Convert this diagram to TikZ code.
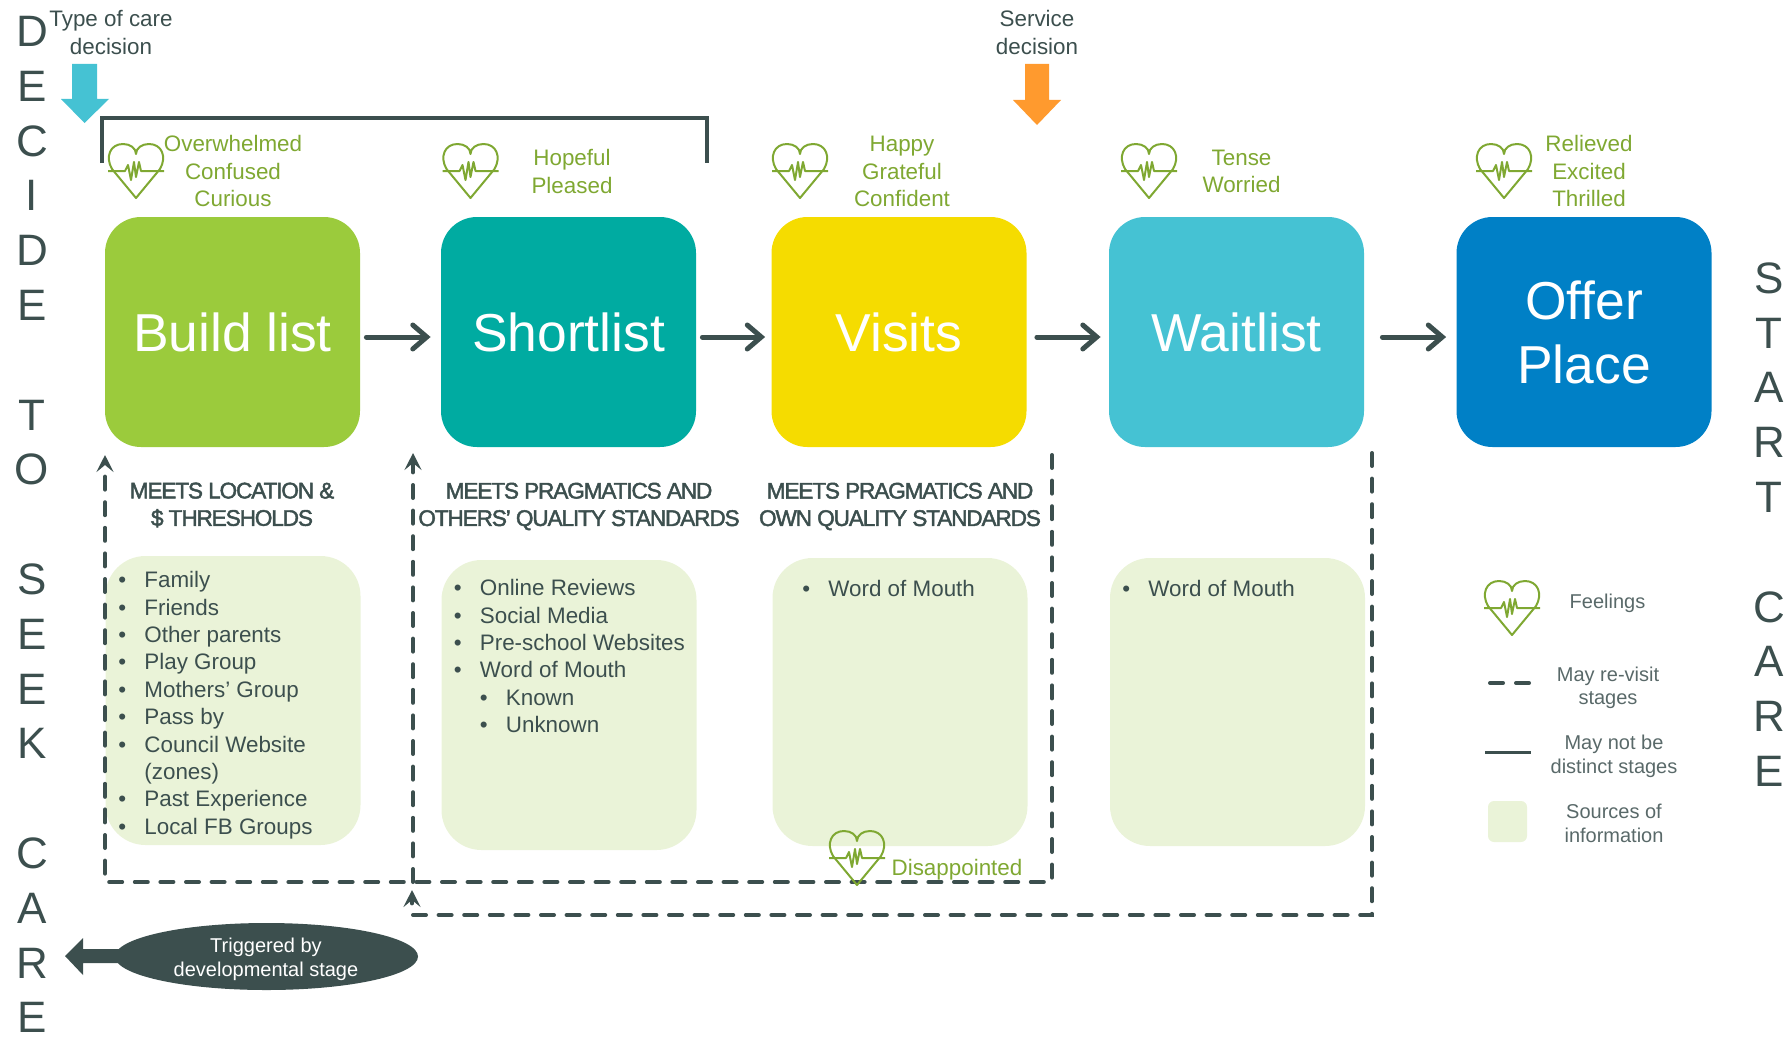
\documentclass[tikz,border=0pt]{standalone}
\usepackage{fontspec}
\setmainfont{Liberation Sans}
\newfontfamily\hdfont[FakeBold=2,LetterSpace=-5]{Liberation Sans}
\usetikzlibrary{arrows.meta,calc,shapes.geometric}
\definecolor{dk}{HTML}{3C4F4E}
\definecolor{gt}{HTML}{7FA832}
\definecolor{srcbg}{HTML}{EAF3D8}
\definecolor{cgreen}{HTML}{9BCB3C}
\definecolor{cteal}{HTML}{00ABA1}
\definecolor{cyel}{HTML}{F5DC00}
\definecolor{ccyan}{HTML}{45C2D3}
\definecolor{cblue}{HTML}{0080C6}
\definecolor{corange}{HTML}{FF9A2E}
\tikzset{
  stage/.style={rounded corners=18pt,minimum width=127.5pt,minimum height=115pt,inner sep=0,text=white,align=center,font=\fontsize{26.7}{32}\selectfont},
  src/.style={fill=srcbg,rounded corners=20pt,inner sep=0,minimum width=127.5pt},
  lst/.style={anchor=north west,inner sep=0,align=left,text=dk,font=\fontsize{11.2}{13.7}\selectfont},
  feel/.style={inner sep=0,align=center,text=gt,font=\fontsize{11.2}{13.7}\selectfont},
  note/.style={inner sep=0,align=center,text=dk,font=\fontsize{11.2}{13.7}\selectfont},
  leg/.style={inner sep=0,align=center,text=dk!85!white,font=\fontsize{10}{11.8}\selectfont},
  head/.style={inner sep=0,align=center,text=dk,font=\hdfont\fontsize{11.3}{13.7}\selectfont},
  side/.style={inner sep=0,align=center,text=dk,font=\fontsize{22}{27.4}\selectfont},
  flow/.style={draw=dk,line width=2.5pt,line cap=round,-{Straight Barb[length=7pt,width=12pt,line cap=round]}},
  revisit/.style={draw=dk,line width=2pt,line cap=round,dash pattern=on 6.5pt off 6.3pt},
  revtip/.style={-{Stealth[length=8.5pt,width=8.5pt,inset=3.5pt]}},
  pics/heart/.style={code={
    \draw[gt,line width=1pt,line join=round] (0,54) -- (-24,25) .. controls (-31,13) and (-26,0) .. (-13,0) .. controls (-6,0) and (0,4) .. (0,10) .. controls (0,4) and (6,0) .. (13,0) .. controls (26,0) and (31,13) .. (24,25) -- cycle;
    \draw[gt,line width=1pt,line join=round] (-28,27) -- (-11,27) -- (-8,21) -- (-5,36) -- (-2,18) -- (0,33) -- (3,18) -- (5,27) -- (28,27);
  }}
}
\newcommand{\bl}{\makebox[13pt][l]{•}}
\newcommand{\blb}{\hspace{13pt}\makebox[13pt][l]{•}}
\begin{document}
\begin{tikzpicture}[x=0.5pt,y=-0.5pt]
\useasboundingbox (0,0) rectangle (1791,1038);
% side text
\node[side] (sideL) at (32,524.5) {D\\E\\C\\I\\D\\E\\\mbox{}\\T\\O\\\mbox{}\\S\\E\\E\\K\\\mbox{}\\C\\A\\R\\E};
\node[side] (sideR) at (1769,524.5) {S\\T\\A\\R\\T\\\mbox{}\\C\\A\\R\\E};
% decision labels + arrows
\node[note] (typelab) at (111,32.5) {Type of care\\decision};
\node[note] (servlab) at (1037,32.5) {Service\\decision};
\fill[ccyan] (72,64) -- (97,64) -- (97,99) -- (109,99) -- (84.5,123) -- (61,99) -- (72,99) -- cycle;
\fill[corange] (1025,64) -- (1049,64) -- (1049,100) -- (1061,100) -- (1037,125) -- (1013,100) -- (1025,100) -- cycle;
% bracket
\coordinate (brA) at (102,163);
\coordinate (brT) at (102,118);
\coordinate (brU) at (707,118);
\coordinate (brB) at (707,163);
\draw[dk,line width=1.8pt] (brA) -- (brT) -- (brU) -- (brB);
% stages
\node[stage,fill=cgreen] (s1) at (232.5,332) {Build list};
\node[stage,fill=cteal] (s2) at (568.5,332) {Shortlist};
\node[stage,fill=cyel] (s3) at (899,332) {Visits};
\node[stage,fill=ccyan] (s4) at (1236.5,332) {Waitlist};
\node[stage,fill=cblue] (s5) at (1584,332) {Offer\\Place};
% flow arrows
\draw[flow] ($(s1.east)+(6,5)$) -- ($(s2.west)+(-10,5)$);
\draw[flow] ($(s2.east)+(6,5)$) -- ($(s3.west)+(-6,5)$);
\draw[flow] ($(s3.east)+(10,5)$) -- ($(s4.west)+(-8,5)$);
\draw[flow] ($(s4.east)+(18,5)$) -- ($(s5.west)+(-10,5)$);
% feelings
\pic at (136,144) {heart};
\pic at (470.5,144) {heart};
\pic at (800,144) {heart};
\pic at (1149,144) {heart};
\pic at (1504,144) {heart};
\node[feel] (f1) at (233,171) {Overwhelmed\\Confused\\Curious};
\node[feel] (f2) at (572,171.5) {Hopeful\\Pleased};
\node[feel] (f3) at (902,171.5) {Happy\\Grateful\\Confident};
\node[feel] (f4) at (1241.5,171.5) {Tense\\Worried};
\node[feel] (f5) at (1589,171) {Relieved\\Excited\\Thrilled};
% source boxes
\node[src,minimum height=144.5pt] (b1) at (233,700.5) {};
\node[src,minimum height=145pt] (b2) at (569,705) {};
\node[src,minimum height=144pt] (b3) at (900,702) {};
\node[src,minimum height=144pt] (b4) at (1237.5,702) {};
% dashed paths
\coordinate (d1a) at (105,882);
\coordinate (d1b) at (105,455);
\coordinate (d2a) at (413,882);
\coordinate (d2b) at (413,453);
\coordinate (d3a) at (1052,882);
\coordinate (d3b) at (1052,455);
\coordinate (d4a) at (1372,453);
\coordinate (d4b) at (1372,915);
\coordinate (d4c) at (412,915);
\coordinate (d4d) at (412,890);
\draw[revisit,revtip] (d3b) -- (d3a) -- (d1a) -- (d1b);
\draw[revisit,revtip] (d2a) -- (d2b);
\draw[revisit,revtip] (d4a) -- (d4b) -- (d4c) -- (d4d);
% headings
\node[head] (h1) at (232,505) {MEETS LOCATION \&\\\$ THRESHOLDS};
\node[head] (h2) at (579,506.5) {MEETS PRAGMATICS AND\\OTHERS’ QUALITY STANDARDS};
\node[head] (h3) at (900,506.5) {MEETS PRAGMATICS AND\\OWN QUALITY STANDARDS};
% lists
\node[lst] (l1) at (118,571) {\bl Family\\\bl Friends\\\bl Other parents\\\bl Play Group\\\bl Mothers’ Group\\\bl Pass by\\\bl Council Website\\\hspace{13pt}(zones)\\\bl Past Experience\\\bl Local FB Groups};
\node[lst] (l2) at (453.5,579) {\bl Online Reviews\\\bl Social Media\\\bl Pre-school Websites\\\bl Word of Mouth\\\blb Known\\\blb Unknown};
\node[lst] (l3) at (802,580) {\bl Word of Mouth};
\node[lst] (l4) at (1122,580) {\bl Word of Mouth};
% disappointed
\pic at (857,831) {heart};
\node[feel] (f6) at (957,869.5) {Disappointed};
% trigger
\fill[dk] (65,956) -- (83,938) -- (83,949) -- (140,949) -- (140,963) -- (83,963) -- (83,975) -- cycle;
\node[ellipse,fill=dk,minimum width=151.5pt,minimum height=33.5pt,inner sep=0] (trig) at (266.5,956.5) {};
\node[inner sep=0,align=center,text=white,font=\fontsize{10}{12}\selectfont] (trigt) at (266,959) {Triggered by\\developmental stage};
% legend
\pic at (1512,581) {heart};
\node[leg] (lg1) at (1607.5,603) {Feelings};
\coordinate (la) at (1490,683);
\coordinate (lb) at (1530,683);
\draw[dk,line width=2pt,line cap=round,dash pattern=on 6.5pt off 6.5pt] (la) -- (lb);
\node[leg] (lg2) at (1608,688) {May re-visit\\stages};
\coordinate (lc) at (1485,752);
\coordinate (ld) at (1531,752);
\draw[dk,line width=1.5pt] (lc) -- (ld);
\node[leg] (lg3) at (1614,756.5) {May not be\\distinct stages};
\node[fill=srcbg,rounded corners=3pt,minimum width=19.5pt,minimum height=20.5pt,inner sep=0] (lgbox) at (1507.5,821.5) {};
\node[leg] (lg4) at (1614,823.5) {Sources of\\information};
\end{tikzpicture}
\end{document}
